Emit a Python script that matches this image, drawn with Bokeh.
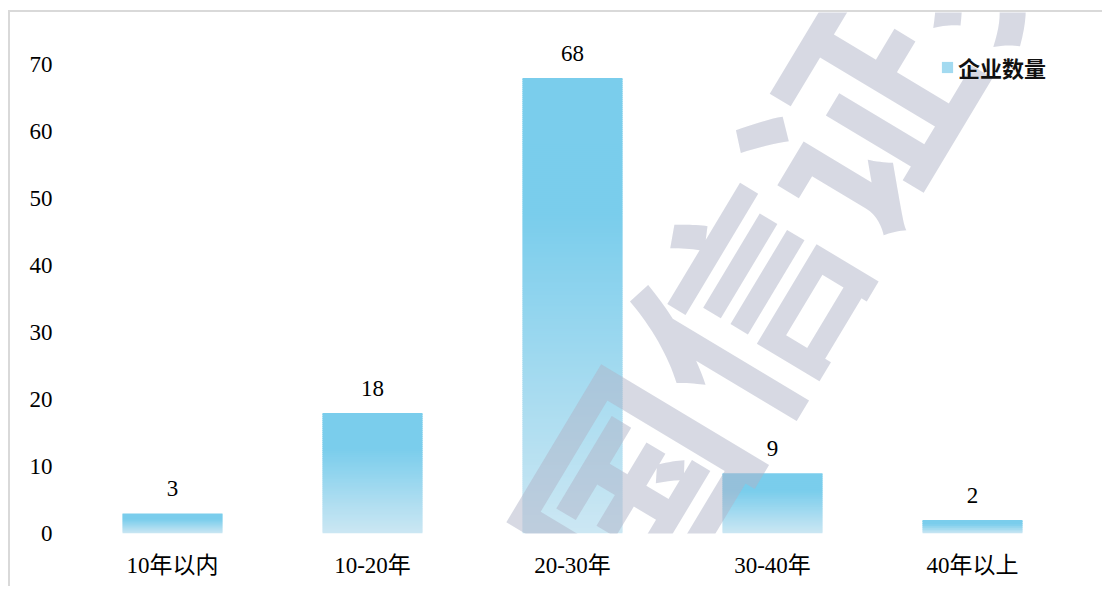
import math
from bokeh.plotting import figure
from bokeh.models import (FactorRange, Range1d, FixedTicker, ColumnDataSource,
                          LabelSet, Label, Legend, LegendItem)
from bokeh.embed import file_html
from bokeh.resources import INLINE

# ---- data ----
categories = ["10年以内", "10-20年", "20-30年", "30-40年", "40年以上"]
counts = [3, 18, 68, 9, 2]
y_ticks = [0, 10, 20, 30, 40, 50, 60, 70]
series_name = "企业数量"
watermark_text = "国信证券"

SERIF = "'Liberation Serif', 'Noto Sans CJK SC'"
TOP_RGB = (122, 205, 236)
BOT_RGB = (204, 231, 243)
PLATEAU = 0.3
STEP = 0.3      # slice height in value units (~2px)
OVERLAP = 0.15


def shade(f_from_top):
    t = max(0.0, (f_from_top - PLATEAU) / (1 - PLATEAU))
    r, g, b = (round(a + (c - a) * t) for a, c in zip(TOP_RGB, BOT_RGB))
    return "#%02x%02x%02x" % (r, g, b)


xs, bottoms, tops, colors = [], [], [], []
for cat, v in zip(categories, counts):
    n = max(4, math.ceil(v / STEP))
    for i in range(n):
        xs.append(cat)
        bottoms.append(v * i / n)
        tops.append(min(v, v * (i + 1) / n + OVERLAP))
        colors.append(shade(1 - (i + 0.5) / n))
slices = ColumnDataSource(dict(x=xs, bottom=bottoms, top=tops, color=colors))

p = figure(x_range=FactorRange(factors=categories, range_padding=0),
           y_range=Range1d(0, 77.76),
           width=1094, height=576, output_backend="svg", toolbar_location=None,
           min_border_left=62, min_border_right=32, min_border_top=0, min_border_bottom=55,
           styles={"border-top": "2px solid #D9D9D9", "border-left": "2px solid #D9D9D9",
                   "margin-top": "10px", "margin-left": "8px"})
p.outline_line_color = None
p.grid.grid_line_color = None
p.background_fill_color = "white"
p.border_fill_color = "white"

r = p.vbar(x="x", bottom="bottom", top="top", width=0.5, source=slices,
           fill_color="color", line_color=None)

labels_src = ColumnDataSource(dict(x=categories, y=counts, t=[str(c) for c in counts]))
p.add_layout(LabelSet(x="x", y="y", text="t", source=labels_src, y_offset=17,
                      text_align="center", text_baseline="bottom",
                      text_font=SERIF, text_font_size="23px", text_color="#000000"))

p.yaxis.ticker = FixedTicker(ticks=y_ticks)
for ax in (p.xaxis, p.yaxis):
    ax.axis_line_color = None
    ax.major_tick_line_color = None
    ax.minor_tick_line_color = None
    ax.major_label_text_font = SERIF
    ax.major_label_text_font_size = "23px"
    ax.major_label_text_color = "#000000"
p.yaxis.major_label_standoff = 14
p.xaxis.major_label_standoff = 13

legend = Legend(items=[LegendItem(label=series_name, renderers=[r], index=3)],
                location=(868, 450), glyph_width=14, glyph_height=14,
                label_standoff=4, label_text_font="'Noto Sans CJK SC'",
                label_text_font_style="bold",
                label_text_font_size="22px", label_text_color="#111111",
                background_fill_alpha=0, border_line_color=None, padding=0, margin=0)
p.add_layout(legend)

wm = Label(x=3.60, y=49.1, text=watermark_text, angle=59, angle_units="deg",
           text_font="'Noto Sans CJK SC'", text_font_style="bold", text_font_size="218px",
           text_color="#B0B4C8", text_alpha=0.5, text_align="center", text_baseline="middle")
p.add_layout(wm)

open("out.html", "w").write(file_html(p, INLINE))
